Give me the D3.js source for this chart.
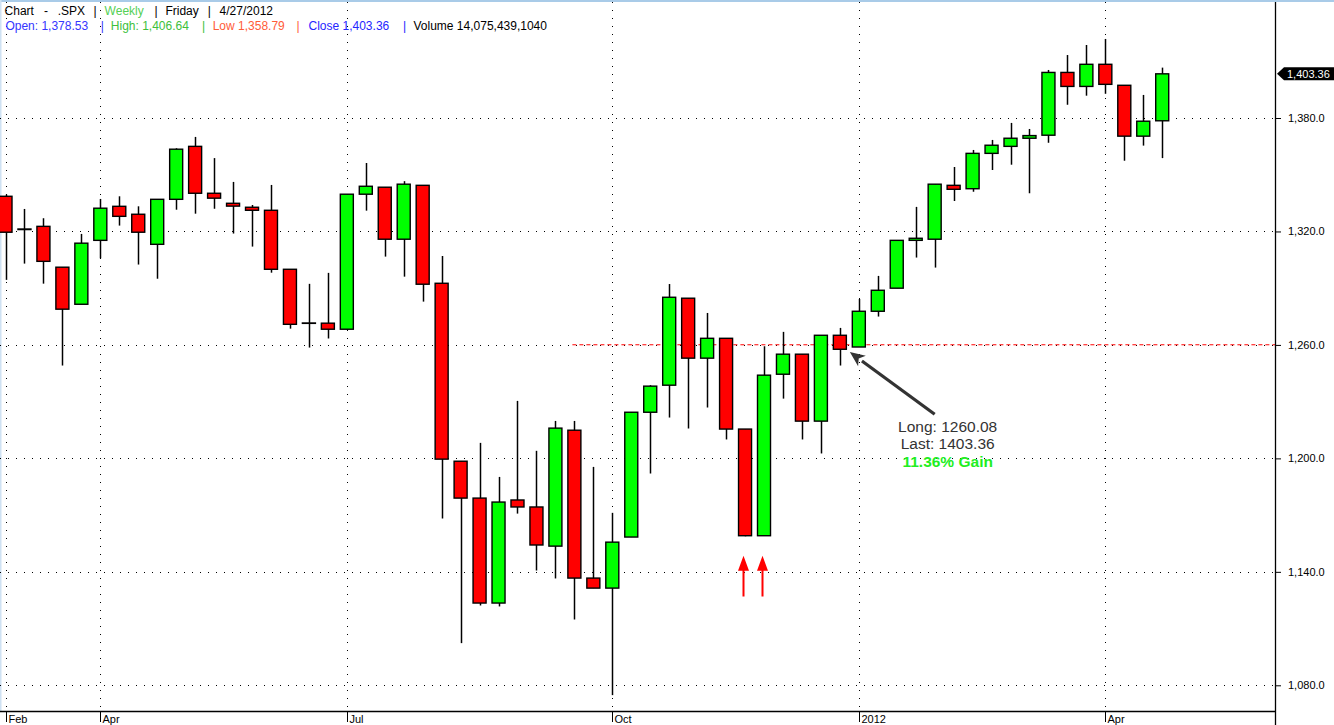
<!DOCTYPE html>
<html>
<head>
<meta charset="utf-8">
<script src="https://cdn.jsdelivr.net/npm/d3@7"></script>
<style>
  html, body { margin: 0; padding: 0; background: #fff; }
  svg { display: block; font-family: "Liberation Sans", Arial, sans-serif; }
</style>
</head>
<body>
<div class="chart"></div>
<script>
var width = 1334,
    height = 725,
    plotRight = 1275,
    plotBottom = 711;

// weekly SPX, Fridays from 25 Feb 2011 to 27 Apr 2012
var weeks = d3.timeFriday.range(new Date(2011, 1, 25), new Date(2012, 3, 28));

var open = [1338.6, 1321.0, 1322.7, 1301.1, 1281.5, 1315.3, 1333.3, 1329.1, 1313.2, 1337.0,
            1365.0, 1340.2, 1334.9, 1332.8, 1331.2, 1300.0, 1271.6, 1271.5, 1268.3, 1339.7,
            1343.4, 1315.9, 1344.4, 1292.6, 1198.5, 1179.0, 1123.5, 1178.0, 1174.3, 1153.6,
            1214.9, 1136.7, 1131.4, 1158.4, 1224.4, 1238.7, 1284.7, 1253.0, 1263.5, 1215.5,
            1159.1, 1244.5, 1255.1, 1219.7, 1265.1, 1258.9, 1277.8, 1290.0, 1315.3, 1315.9,
            1344.4, 1342.6, 1361.3, 1365.0, 1369.3, 1370.9, 1404.1, 1396.7, 1408.4, 1397.3,
            1370.4, 1378.53];
var high = [1339.5, 1331.9, 1327.0, 1301.1, 1318.7, 1337.2, 1338.6, 1333.3, 1337.0, 1364.0,
            1370.0, 1358.8, 1346.2, 1334.0, 1344.6, 1300.0, 1292.3, 1298.1, 1339.7, 1356.2,
            1343.4, 1346.6, 1344.4, 1307.0, 1198.5, 1208.2, 1190.2, 1230.4, 1204.0, 1219.8,
            1219.8, 1195.5, 1171.2, 1224.4, 1238.7, 1292.2, 1284.7, 1276.9, 1263.5, 1215.5,
            1259.3, 1266.9, 1255.1, 1265.1, 1269.0, 1284.3, 1296.5, 1315.3, 1333.0, 1345.0,
            1354.1, 1363.1, 1368.4, 1377.4, 1374.2, 1405.4, 1413.3, 1418.6, 1421.8, 1397.3,
            1392.2, 1406.64];
var low = [1294.4, 1303.0, 1292.4, 1249.1, 1281.5, 1305.8, 1323.1, 1302.5, 1295.0, 1331.5,
           1329.4, 1332.0, 1318.9, 1312.0, 1298.2, 1268.6, 1258.6, 1263.4, 1268.0, 1331.0,
           1306.7, 1296.1, 1282.9, 1168.2, 1102.3, 1122.2, 1121.7, 1170.8, 1140.7, 1136.5,
           1114.8, 1131.4, 1074.8, 1158.4, 1192.0, 1221.6, 1215.8, 1226.9, 1210.0, 1158.8,
           1159.1, 1231.6, 1210.0, 1202.6, 1249.1, 1258.9, 1275.0, 1290.0, 1306.2, 1300.9,
           1336.1, 1341.0, 1352.5, 1355.3, 1340.2, 1366.9, 1387.0, 1391.8, 1392.8, 1357.4,
           1365.4, 1358.79];
var close = [1319.6, 1321.3, 1304.2, 1278.9, 1313.8, 1332.3, 1328.0, 1319.6, 1337.0, 1363.5,
             1340.2, 1337.6, 1333.4, 1331.2, 1300.0, 1270.9, 1271.4, 1268.3, 1339.7, 1343.9,
             1315.9, 1345.0, 1292.1, 1199.6, 1179.0, 1123.5, 1176.9, 1174.3, 1154.2, 1216.0,
             1136.7, 1131.4, 1155.7, 1224.4, 1238.2, 1285.2, 1253.0, 1263.5, 1215.5, 1159.1,
             1244.0, 1255.1, 1219.7, 1265.1, 1257.7, 1277.8, 1288.9, 1315.3, 1316.4, 1345.0,
             1342.3, 1361.3, 1365.6, 1369.3, 1370.7, 1404.1, 1396.7, 1408.4, 1397.8, 1370.4,
             1378.3, 1403.36];

var priceTicks = [1080, 1140, 1200, 1260, 1320, 1380];
var tickWeeks = ["2011-02-25", "2011-04-01", "2011-07-01", "2011-10-07", "2012-01-06", "2012-04-06"];
var tickLabels = ["Feb", "Apr", "Jul", "Oct", "2012", "Apr"];

var longPrice = 1260.08,
    longFrom = 30,               // dashed entry line starts at this week
    gainPct = 11.36;             // as printed on the chart
var signalWeeks = [39, 40],      // red up arrows under these weeks
    signalTop = 1148.5,
    signalBottom = 1127;
var volume = "14,075,439,1040";

var fmtKey = d3.timeFormat("%Y-%m-%d");
var fmt2 = d3.format(",.2f");

var svg = d3.select("div.chart").append("svg")
    .attr("width", width)
    .attr("height", height);

var x = d3.scaleBand()
    .domain(weeks.map(fmtKey))
    .range([-3.98, 1171.7])
    .paddingInner(0.314)
    .paddingOuter(0.157);

var y = d3.scaleLinear()
    .domain([1080, 1380])
    .range([685.3, 118]);

function cx(i) { return x(fmtKey(weeks[i])) + x.bandwidth() / 2; }

// frame
svg.append("rect").attr("x", 0).attr("y", 0).attr("width", width).attr("height", 2).attr("fill", "#a9cbe8");
svg.append("rect").attr("x", 0).attr("y", 0).attr("width", 1.5).attr("height", plotBottom).attr("fill", "#cfe2f3");

/* ========== grid ========== */
svg.append("g").selectAll("line")
    .data(priceTicks)
    .enter().append("line")
    .attr("x1", 0).attr("x2", plotRight)
    .attr("y1", function(d) { return Math.round(y(d)) + 0.5; })
    .attr("y2", function(d) { return Math.round(y(d)) + 0.5; })
    .attr("stroke", "#000").attr("stroke-width", 1)
    .attr("stroke-dasharray", "1,7");

svg.append("g").selectAll("line")
    .data(tickWeeks)
    .enter().append("line")
    .attr("x1", function(d) { return Math.round(x(d) + x.bandwidth() / 2) + 0.5; })
    .attr("x2", function(d) { return Math.round(x(d) + x.bandwidth() / 2) + 0.5; })
    .attr("y1", 2).attr("y2", plotBottom)
    .attr("stroke", "#000").attr("stroke-width", 1)
    .attr("stroke-dasharray", "1,7");

// entry level
svg.append("line")
    .attr("x1", cx(longFrom) - 2).attr("x2", plotRight)
    .attr("y1", y(longPrice)).attr("y2", y(longPrice))
    .attr("stroke", "#ff0000").attr("stroke-width", 1)
    .attr("stroke-dasharray", "4,3");

/* ========== candles ========== */
var idx = d3.range(open.length);
var candles = svg.append("g").attr("class", "candles");

candles.selectAll("line.wick")
    .data(idx)
    .enter().append("line")
    .attr("class", "wick")
    .attr("x1", function(i) { return Math.round(cx(i)) + 0.5; })
    .attr("x2", function(i) { return Math.round(cx(i)) + 0.5; })
    .attr("y1", function(i) { return y(high[i]); })
    .attr("y2", function(i) { return y(low[i]); })
    .attr("stroke", "#000").attr("stroke-width", 1.5);

candles.selectAll("rect.body")
    .data(idx)
    .enter().append("rect")
    .attr("class", "body")
    .attr("x", function(i) { return x(fmtKey(weeks[i])); })
    .attr("width", x.bandwidth())
    .attr("y", function(i) { return y(Math.max(open[i], close[i])); })
    .attr("height", function(i) { return Math.abs(y(open[i]) - y(close[i])); })
    .attr("fill", function(i) { return close[i] >= open[i] ? "#00ff00" : "#ff0000"; })
    .attr("stroke", "#000").attr("stroke-width", 1.4);

/* ========== signal arrows ========== */
svg.append("g").selectAll("path")
    .data(signalWeeks)
    .enter().append("path")
    .attr("d", function(i) {
        var sx = Math.round(cx(i)) - 1.5, t = y(signalTop), b = y(signalBottom), h = t + 15;
        return "M" + (sx - 1) + "," + b + "V" + h + "H" + (sx - 5.5) + "L" + sx + "," + t +
               "L" + (sx + 5.5) + "," + h + "H" + (sx + 1) + "V" + b + "Z";
    })
    .attr("fill", "#ff0000");

/* ========== annotation ========== */
var tipX = cx(44) + 10, tipY = y(1256.2),
    tailX = cx(49), tailY = y(1223.3);
var ang = Math.atan2(tipY - tailY, tipX - tailX);
var headLen = 15, headW = 6.5;
var bx = tipX - headLen * Math.cos(ang), by = tipY - headLen * Math.sin(ang);
svg.append("line")
    .attr("x1", tailX).attr("y1", tailY)
    .attr("x2", bx).attr("y2", by)
    .attr("stroke", "#333").attr("stroke-width", 3.2);
svg.append("path")
    .attr("d", "M" + tipX + "," + tipY +
               "L" + (bx + headW * Math.sin(ang)) + "," + (by - headW * Math.cos(ang)) +
               "L" + (bx + 4 * Math.cos(ang)) + "," + (by + 4 * Math.sin(ang)) +
               "L" + (bx - headW * Math.sin(ang)) + "," + (by + headW * Math.cos(ang)) + "Z")
    .attr("fill", "#333");

var last = close[close.length - 1];
var note = svg.append("g")
    .attr("transform", "translate(" + (cx(49) + 13) + "," + y(1214.2) + ")")
    .attr("text-anchor", "middle")
    .style("font-size", "15.5px");
note.append("text").attr("y", 0).attr("fill", "#333").text("Long: " + longPrice.toFixed(2));
note.append("text").attr("y", 17.7).attr("fill", "#333").text("Last: " + last.toFixed(2));
note.append("text").attr("y", 35.4).attr("fill", "#22ee22").style("font-weight", "bold")
    .text(gainPct.toFixed(2) + "% Gain");

/* ========== axes ========== */
svg.append("line")
    .attr("x1", plotRight + 0.5).attr("x2", plotRight + 0.5)
    .attr("y1", 2).attr("y2", height)
    .attr("stroke", "#000").attr("stroke-width", 1.3);
svg.append("line")
    .attr("x1", 0).attr("x2", plotRight)
    .attr("y1", plotBottom + 0.5).attr("y2", plotBottom + 0.5)
    .attr("stroke", "#000").attr("stroke-width", 1.3);

var yAxis = svg.append("g")
    .attr("transform", "translate(" + (plotRight + 1) + ",0)")
    .call(d3.axisRight(y).tickValues(priceTicks).tickFormat(d3.format(",.1f")).tickSize(5).tickPadding(7));
yAxis.select(".domain").remove();
yAxis.selectAll("text").style("font-size", "11px").style("font-family", "Liberation Sans, Arial, sans-serif").attr("fill", "#000");

var xAxis = svg.append("g").attr("class", "xaxis");
tickWeeks.forEach(function(d, k) {
    var px = Math.round(x(d) + x.bandwidth() / 2) + 0.5;
    xAxis.append("line").attr("x1", px).attr("x2", px)
        .attr("y1", plotBottom).attr("y2", plotBottom + 11)
        .attr("stroke", "#000").attr("stroke-width", 1);
    xAxis.append("text").attr("x", px + 2).attr("y", plotBottom + 12)
        .style("font-size", "11px").attr("fill", "#000")
        .text(tickLabels[k]);
});

// last price marker
var my = y(last);
svg.append("path")
    .attr("d", "M" + (plotRight + 2) + "," + my + "L" + (plotRight + 9) + "," + (my - 6.5) +
               "H" + width + "V" + (my + 6.5) + "H" + (plotRight + 9) + "Z")
    .attr("fill", "#000");
svg.append("text")
    .attr("x", plotRight + 12).attr("y", my + 4)
    .style("font-size", "11px").attr("fill", "#fff")
    .text(fmt2(last));

/* ========== header ========== */
var lastOpen = open[open.length - 1], lastHigh = high[high.length - 1], lastLow = low[low.length - 1];
var line1 = [
    ["Chart", 4.6, "#000"], ["-", 44, "#000"], [".SPX", 57.7, "#000"], ["|", 93.5, "#000"],
    ["Weekly", 104.6, "#55d055"], ["|", 154.6, "#000"], ["Friday", 165.4, "#000"], ["|", 207.7, "#000"],
    ["4/27/2012", 219.6, "#000"]
];
var line2 = [
    ["Open: " + fmt2(lastOpen), 5.4, "#3535ff"], ["|", 100.8, "#3535ff"],
    ["High: " + fmt2(lastHigh), 110.8, "#3cc03c"], ["|", 202, "#3cc03c"],
    ["Low " + fmt2(lastLow), 212.7, "#ff5c38"], ["|", 296.5, "#ff5c38"],
    ["Close " + fmt2(last), 308.5, "#2525ff"], ["|", 403, "#2525ff"],
    ["Volume " + volume, 413.5, "#000"]
];
function header(parts, yy) {
    svg.append("g").selectAll("text")
        .data(parts)
        .enter().append("text")
        .attr("x", function(d) { return d[1]; })
        .attr("y", yy)
        .attr("fill", function(d) { return d[2]; })
        .style("font-size", "12px")
        .text(function(d) { return d[0]; });
}
header(line1, 14.5);
header(line2, 29.5);
</script>
</body>
</html>
